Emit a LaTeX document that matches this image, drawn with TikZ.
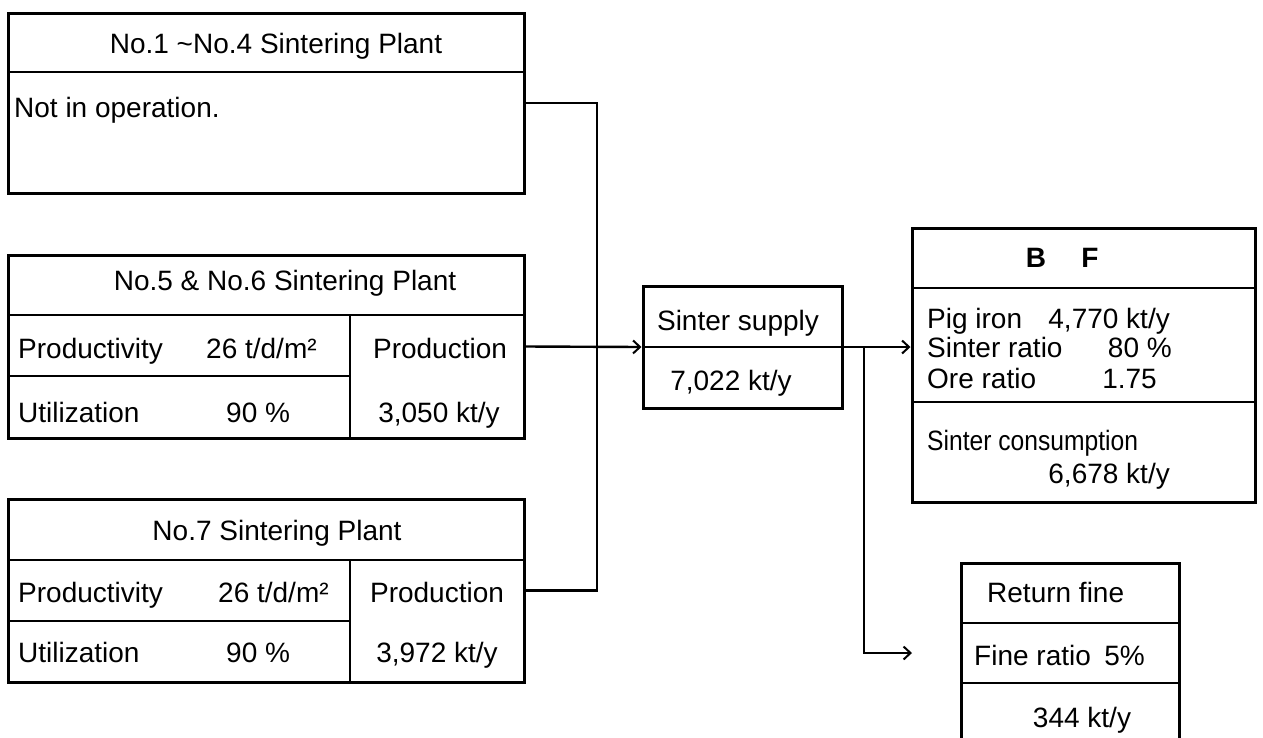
\documentclass[tikz,border=0pt]{standalone}
\usepackage{fontspec}
\usepackage{graphicx}
\setmainfont{Liberation Sans}
\usetikzlibrary{arrows.meta}
\begin{document}
\begin{tikzpicture}[x=1pt,y=-1pt,
  box/.style={draw,line width=3pt,inner sep=0pt},
  div/.style={line width=2.2pt},
  conn/.style={line width=2.4pt},
  arr/.style={conn,-{Straight Barb[length=7pt,width=13pt,line width=2pt]}},
  txt/.style={font=\fontsize{28}{30}\selectfont,inner sep=0pt},
  lt/.style={txt,anchor=base west},
  ct/.style={txt,anchor=base},
  rt/.style={txt,anchor=base east}]
\useasboundingbox (0,0) rectangle (1263,737);
\clip (0,0) rectangle (1263,737);

% ---------- boxes ----------
\node[box,minimum width=516pt,minimum height=180pt] (b1) at (266,103) {};
\node[box,minimum width=516pt,minimum height=183pt] (b2) at (266,346.5) {};
\node[box,minimum width=516pt,minimum height=183pt] (b3) at (266,590.5) {};
\node[box,minimum width=199pt,minimum height=122pt] (sup) at (742.5,347) {};
\node[box,minimum width=343pt,minimum height=274pt] (bf) at (1083.5,365) {};
\node[box,minimum width=218pt,minimum height=182pt] (ret) at (1070,654) {};

% ---------- dividers ----------
\draw[div] (8,72) -- (524,72);
\draw[div] (8,315) -- (524,315);
\draw[div] (8,376) -- (350,376);
\draw[div] (350,315) -- (350,438);
\draw[div] (8,560) -- (524,560);
\draw[div] (8,621) -- (350,621);
\draw[div] (350,560) -- (350,682);
\draw[div] (643,347) -- (842,347);
\draw[div] (912,288) -- (1255,288);
\draw[div] (912,402) -- (1255,402);
\draw[div] (961,623) -- (1179,623);
\draw[div] (961,683) -- (1179,683);

% ---------- texts ----------
\node[ct] (t1) at (276,53) {No.1 \textasciitilde No.4 Sintering Plant};
\node[lt] (t1a) at (14,117) {Not in operation.};

\node[ct] (t2) at (285,290) {No.5 \& No.6 Sintering Plant};
\node[lt] (t2a) at (18,358) {Productivity};
\node[lt] (t2b) at (206,358) {26 t/d/m²};
\node[ct] (t2c) at (440,358) {Production};
\node[lt] (t2d) at (18,422) {Utilization};
\node[lt] (t2e) at (226,422) {90 \%};
\node[ct] (t2f) at (439,422) {3,050 kt/y};

\node[ct] (t3) at (277,540) {No.7 Sintering Plant};
\node[lt] (t3a) at (18,602) {Productivity};
\node[lt] (t3b) at (218,602) {26 t/d/m²};
\node[ct] (t3c) at (437,602) {Production};
\node[lt] (t3d) at (18,662) {Utilization};
\node[lt] (t3e) at (226,662) {90 \%};
\node[ct] (t3f) at (437,662) {3,972 kt/y};

\node[ct] (s1) at (738,330) {Sinter supply};
\node[ct] (s2) at (731,390) {7,022 kt/y};

\node[ct,font=\fontsize{28}{30}\selectfont\bfseries] (f1) at (1036,267) {B};
\node[ct,font=\fontsize{28}{30}\selectfont\bfseries] (f2) at (1090,267) {F};
\node[lt] (f3) at (927,328) {Pig iron};
\node[rt] (f4) at (1170,328) {4,770 kt/y};
\node[lt] (f5) at (927,357) {Sinter ratio};
\node[rt] (f6) at (1172,357) {80 \%};
\node[lt] (f7) at (927,388) {Ore ratio};
\node[rt] (f8) at (1157,388) {1.75};
\node[lt] (f9) at (927,450) {\scalebox{0.88}[1]{Sinter consumption}};
\node[rt] (f10) at (1170,483) {6,678 kt/y};

\node[lt] (r1) at (987,602) {Return fine};
\node[lt] (r2) at (974,665) {Fine ratio};
\node[rt] (r3) at (1145,665) {5\%};
\node[ct] (r4) at (1082,727) {344 kt/y};

% ---------- connectors ----------
\coordinate (j) at (597,103);
\draw[conn] (b1.east) -- (j) -- (j |- b3.east) -- (b3.east);
\draw[arr] (b2.east) -- (sup.west);
\draw[arr] (sup.east) -- (sup.east -| bf.west);
\coordinate (br) at (864,347);
\coordinate (rf) at (912,653);
\draw[arr] (br) -- (br |- rf) -- (rf);
\end{tikzpicture}
\end{document}
